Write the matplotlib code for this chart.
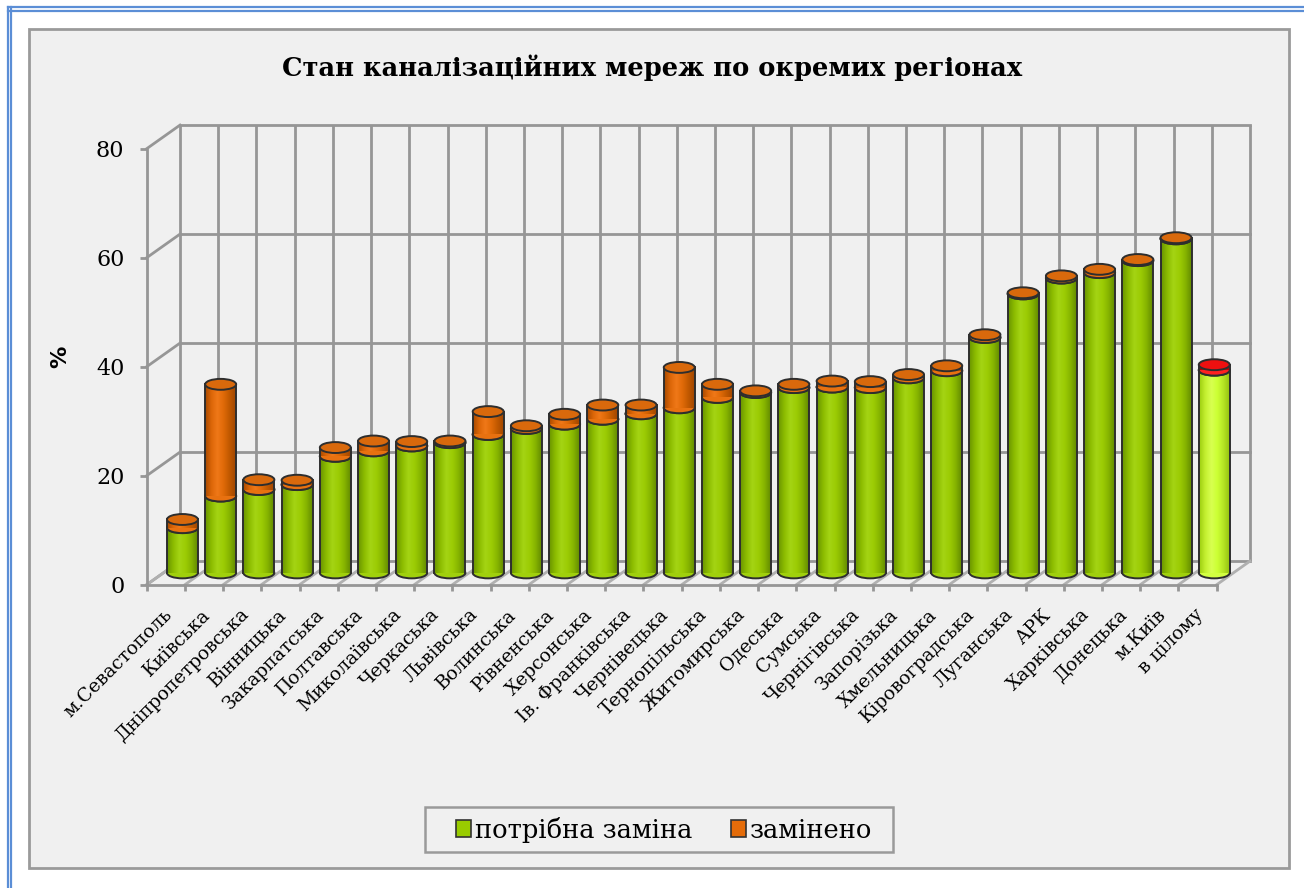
import numpy as np
import matplotlib
matplotlib.use('Agg')
import matplotlib.pyplot as plt
from matplotlib.patches import Rectangle, Ellipse, Patch
from matplotlib.lines import Line2D
from matplotlib.colors import LinearSegmentedColormap
import matplotlib.transforms as mtransforms

# ---------------- data ----------------
categories = ['м.Севастополь', 'Київська', 'Дніпропетровська', 'Вінницька',
              'Закарпатська', 'Полтавська', 'Миколаївська', 'Черкаська',
              'Львівська', 'Волинська', 'Рівненська', 'Херсонська',
              'Ів. Франківська', 'Чернівецька', 'Тернопільська', 'Житомирська',
              'Одеська', 'Сумська', 'Чернігівська', 'Запорізька', 'Хмельницька',
              'Кіровоградська', 'Луганська', 'АРК', 'Харківська', 'Донецька',
              'м.Київ', 'в цілому']
need_replace = [8.3, 14.1, 15.3, 16.2, 21.4, 22.4, 23.3, 23.9, 25.4, 26.5,
                27.3, 28.2, 29.2, 30.3, 32.2, 33.1, 34.0, 34.1, 34.0, 35.8,
                37.1, 43.2, 51.2, 54.1, 55.1, 57.3, 61.3, 37.2]
replaced = [1.5, 20.5, 1.8, 0.8, 1.6, 1.8, 0.8, 0.3, 4.2, 0.5,
            1.8, 2.6, 1.6, 7.4, 2.4, 0.3, 0.6, 1.1, 1.1, 0.6,
            0.9, 0.5, 0.2, 0.4, 0.6, 0.2, 0.2, 1.0]
y_ticks = [0, 20, 40, 60, 80]
title = 'Стан каналізаційних мереж по окремих регіонах'
series_names = ['потрібна заміна', 'замінено']
y_label = '%'

plt.rcParams['font.family'] = ['DejaVu Serif']

W, H = 1304, 888
fig = plt.figure(figsize=(W / 100, H / 100), dpi=100)
fig.patch.set_facecolor('white')

def fx(px):
    return px / W

def fy(py):
    return 1 - py / H

# page border (blue double line top & left) and chart area
for off in (7.5, 11.0):
    fig.add_artist(Line2D([fx(7.5), 1], [fy(off), fy(off)], transform=fig.transFigure,
                          color='#5b8ed6', lw=1.6))
    fig.add_artist(Line2D([fx(off), fx(off)], [fy(7.5), 0], transform=fig.transFigure,
                          color='#5b8ed6', lw=1.6))
fig.add_artist(Rectangle((fx(28.5), fy(868)), fx(1289.3) - fx(28.5), fy(29.3) - fy(868),
                         transform=fig.transFigure, facecolor='#f0f0f0',
                         edgecolor='#9a9a9a', lw=2, zorder=0))

# ---------------- axes (front plane) ----------------
ax = fig.add_axes([fx(146.7), fy(584.7), (1216.7 - 146.7) / W, (584.7 - 148.7) / H])
ax.patch.set_alpha(0)
n = len(categories)
ax.set_xlim(-0.5, n - 0.5)
ax.set_ylim(0, 80)
for s in ax.spines.values():
    s.set_visible(False)

DX = 33.3 / ((1216.7 - 146.7) / n)   # depth offset in category units
DY = 23.6 / (436.0 / 80)              # depth offset in value units
grid_c = '#969696'
glw = 2.0

# back wall
for k in range(n + 1):
    x = -0.5 + k + DX
    ax.plot([x, x], [DY, 80 + DY], color=grid_c, lw=glw, clip_on=False, zorder=1,
            solid_capstyle='butt')
for t in y_ticks:
    ax.plot([-0.5 + DX, n - 0.5 + DX], [t + DY, t + DY], color=grid_c, lw=glw,
            clip_on=False, zorder=1)
    # left side wall diagonals
    ax.plot([-0.5, -0.5 + DX], [t, t + DY], color=grid_c, lw=glw, clip_on=False, zorder=1)
# floor
for k in range(n + 1):
    ax.plot([-0.5 + k, -0.5 + k + DX], [0, DY], color='#b0b0b0', lw=glw,
            clip_on=False, zorder=1)
ax.plot([-0.5, n - 0.5], [0, 0], color=grid_c, lw=glw, clip_on=False, zorder=1)
ax.plot([-0.5, -0.5], [0, 80], color=grid_c, lw=glw, clip_on=False, zorder=1)

# ---------------- cylinders ----------------
green_cmap = LinearSegmentedColormap.from_list(
    'g', ['#6a9400', '#8cbc00', '#a4d414', '#9ccc04', '#86b400', '#628a00'])
orange_cmap = LinearSegmentedColormap.from_list(
    'o', ['#a84a00', '#dc6608', '#f07818', '#e06a08', '#c05800', '#a04600'])
light_cmap = LinearSegmentedColormap.from_list(
    'l', ['#9ccc10', '#c4f030', '#d8ff50', '#ccff33', '#b4e424', '#94c010'])
red_cmap = LinearSegmentedColormap.from_list(
    'r', ['#a00000', '#dd0000', '#ff2020', '#e00000', '#b00000'])
edge_c = '#2e2e2e'
grad = np.linspace(0, 1, 64).reshape(1, -1)

bw = 0.81
eh = 2.0
xo = DX / 2
yo = DY / 2


def cylinder(cx, y0, y1, cmap, top_c, z):
    ax.add_patch(Ellipse((cx, y0), bw, eh, facecolor=cmap(0.5), edgecolor=edge_c,
                         lw=1.4, zorder=z, clip_on=False))
    rect = Rectangle((cx - bw / 2, y0), bw, y1 - y0, transform=ax.transData,
                     facecolor='none', edgecolor='none')
    im = ax.imshow(grad, cmap=cmap, extent=[cx - bw / 2, cx + bw / 2, y0, y1],
                   aspect='auto', zorder=z + 0.1, interpolation='bilinear')
    im.set_clip_path(rect)
    ax.plot([cx - bw / 2, cx - bw / 2], [y0, y1], color=edge_c, lw=1.4, zorder=z + 0.2,
            clip_on=False)
    ax.plot([cx + bw / 2, cx + bw / 2], [y0, y1], color=edge_c, lw=1.4, zorder=z + 0.2,
            clip_on=False)
    ax.add_patch(Ellipse((cx, y1), bw, eh, facecolor=top_c, edgecolor=edge_c,
                         lw=1.4, zorder=z + 0.3, clip_on=False))


for i, (g, o) in enumerate(zip(need_replace, replaced)):
    cx = i + xo
    total_cat = (i == n - 1)
    cm1 = light_cmap if total_cat else green_cmap
    cm2 = red_cmap if total_cat else orange_cmap
    top2 = '#ee1010' if total_cat else '#d9690c'
    cylinder(cx, yo, yo + g, cm1, cm1(0.5), 3 + i * 0.01)
    cylinder(cx, yo + g, yo + g + o, cm2, top2, 4 + i * 0.01)

ax.set_xlim(-0.5, n - 0.5)
ax.set_ylim(0, 80)

# ---------------- ticks & labels ----------------
ax.set_yticks(y_ticks)
ax.set_yticklabels([str(t) for t in y_ticks])
ax.tick_params(axis='y', length=5, width=2, color=grid_c, pad=11, labelsize=16,
               labelcolor='black')
ax.set_xticks(range(n))
ax.set_xticklabels(categories, rotation=45, ha='right', va='top',
                   rotation_mode='anchor', fontsize=13.5)
ax.set_xticks(np.arange(-0.5, n, 1.0), minor=True)
ax.tick_params(axis='x', which='major', length=0, pad=15)
ax.tick_params(axis='x', which='minor', length=4, width=2, color=grid_c)
shift = mtransforms.ScaledTranslation(-3 / 100, 0, fig.dpi_scale_trans)
for lab in ax.get_xticklabels():
    lab.set_transform(lab.get_transform() + shift)

fig.text(fx(60), fy(357), y_label, rotation=90, ha='center', va='center',
         fontsize=16, fontweight='bold', family='DejaVu Sans')
fig.text(fx(652), fy(68), title, ha='center', va='center', fontsize=18.5,
         fontweight='bold')

# ---------------- legend ----------------
fig.add_artist(Rectangle((fx(425), fy(852)), fx(893) - fx(425), fy(807) - fy(852),
                         transform=fig.transFigure, facecolor='#f0f0f0',
                         edgecolor='#9a9a9a', lw=1.8, zorder=2))
handles = [Patch(facecolor='#99cc00', edgecolor='#333333', lw=1.2),
           Patch(facecolor='#e46c0a', edgecolor='#333333', lw=1.2)]
leg = fig.legend(handles, series_names, loc='center',
                 bbox_to_anchor=(fx(664), fy(829.5)), ncol=2, frameon=False,
                 prop={'size': 18.5}, handlelength=0.6, handleheight=0.6,
                 handletextpad=0.15, columnspacing=1.5, borderpad=0.4,
                 borderaxespad=0)
leg.set_zorder(3)

fig.savefig('out.png', dpi=100, facecolor=fig.get_facecolor())
